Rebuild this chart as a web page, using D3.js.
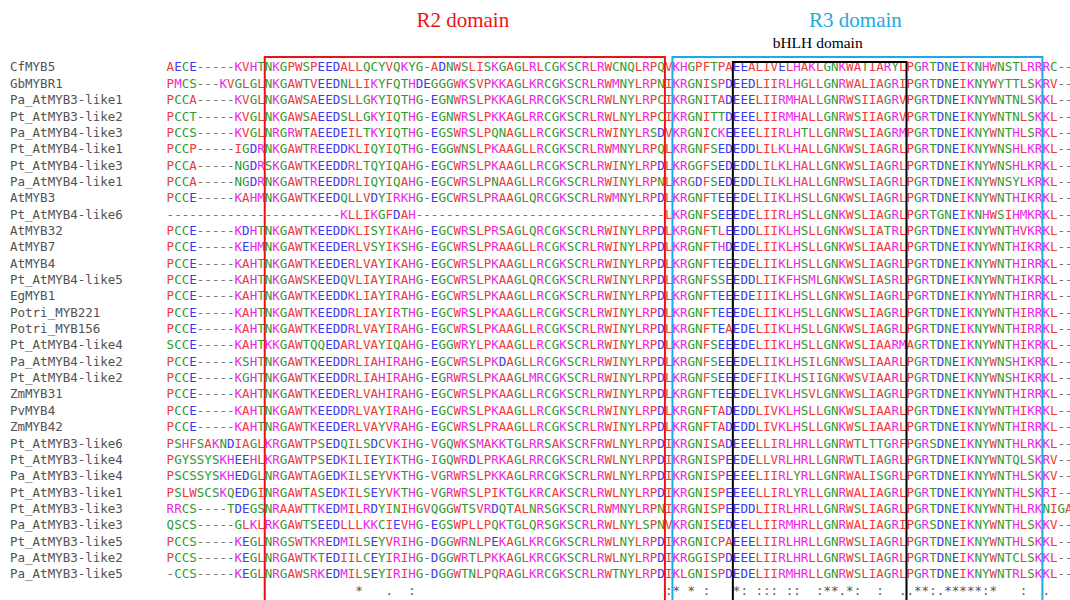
<!DOCTYPE html>
<html>
<head>
<meta charset="utf-8">
<script src="https://cdn.jsdelivr.net/npm/d3@7/dist/d3.min.js"></script>
<style>
  html, body { margin: 0; padding: 0; background: #fff; }
  svg { display: block; }
</style>
</head>
<body>
<svg id="chart" width="1070" height="600"></svg>
<script>
// ---------------- DATA ----------------
const names = [
  "CfMYB5","GbMYBR1","Pa_AtMYB3-like1","Pt_AtMYB3-like2","Pa_AtMYB4-like3","Pt_AtMYB4-like1",
  "Pt_AtMYB4-like3","Pa_AtMYB4-like1","AtMYB3","Pt_AtMYB4-like6","AtMYB32","AtMYB7","AtMYB4",
  "Pt_AtMYB4-like5","EgMYB1","Potri_MYB221","Potri_MYB156","Pt_AtMYB4-like4","Pa_AtMYB4-like2",
  "Pt_AtMYB4-like2","ZmMYB31","PvMYB4","ZmMYB42","Pt_AtMYB3-like6","Pt_AtMYB3-like4",
  "Pa_AtMYB3-like4","Pt_AtMYB3-like1","Pt_AtMYB3-like3","Pa_AtMYB3-like3","Pt_AtMYB3-like5",
  "Pa_AtMYB3-like2","Pa_AtMYB3-like5"
];

const sequences = [
  "AECE-----KVHTNKGPWSPEEDALLQCYVQKYG-ADNWSLISKGAGLRLCGKSCRLRWCNQLRPQVKHGPFTPAEEALIVELHAKLGNKWATIARYLPGRTDNEIKNHWNSTLRRRC--",
  "PMCS---KVGLGLNKGAWTVEEDNLLIKYFQTHDEGGGWKSVPKKAGLKRCGKSCRLRWMNYLRPNIKRGNISPDEEDLIIRLHGLLGNRWALIAGRIPGRTDNEIKNYWYTTLSKRV--",
  "PCCA-----KVGLNKGAWSAEEDSLLGKYIQTHG-EGNWRSLPKKAGLRRCGKSCRLRWLNYLRPCIKRGNITADEEELIIRMHALLGNRWSIIAGRVPGRTDNEIKNYWNTNLSKKL--",
  "PCCT-----KVGLNKGAWSAEEDSLLGKYIQTHG-EGNWRSLPKKAGLRRCGKSCRLRWLNYLRPCIKRGNITTDEEELIIRMHALLGNRWSIIAGRVPGRTDNEIKNYWNTNLSKKL--",
  "PCCS-----KVGLNRGRWTAEEDEILTKYIQTHG-EGSWRSLPQNAGLLRCGKSCRLRWINYLRSDVKRGNICKEEEELIIRLHTLLGNRWSLIAGRMPGRTDNEIKNYWNTHLSRKL--",
  "PCCP-----IGDRNKGAWTREEDDKLIQYIQTHG-EGGWNSLPKAAGLLRCGKSCRLRWMNYLRPQLKRGNFSEDEDDLILKLHALLGNKWSLIAGRLPGRTDNEIKNYWNSHLKRKL--",
  "PCCA-----NGDRSKGAWTKEEDDRLTQYIQAHG-EGCWRSLPKAAGLLRCGKSCRLRWINYLRPDLKRGGFSEDEDDLILKLHALLGNKWSLIAGRLPGRTDNEIKNYWNSHLKRKL--",
  "PCCA-----NGDRNKGAWTREEDDRLIQYIQAHG-EGCWRSLPNAAGLLRCGKSCRLRWINYLRPNLKRGDFSEDEDDLILKLHALLGNRWSLIAGRLPGRTDNEIKNYWNSYLKRKL--",
  "PCCE-----KAHMNKGAWTKEEDQLLVDYIRKHG-EGCWRSLPRAAGLQRCGKSCRLRWMNYLRPDLKRGNFTEEEDELIIKLHSLLGNKWSLIAGRLPGRTDNEIKNYWNTHIKRKL--",
  "-----------------------KLLIKGFDAH---------------------------------LKRGNFSEEEDELIIRLHSLLGNKWSLIAGRLPGRTGNEIKNHWSIHMKRKL--",
  "PCCE-----KDHTNKGAWTKEEDDKLISYIKAHG-EGCWRSLPRSAGLQRCGKSCRLRWINYLRPDLKRGNFTLEEDDLIIKLHSLLGNKWSLIATRLPGRTDNEIKNYWNTHVKRKL--",
  "PCCE-----KEHMNKGAWTKEEDERLVSYIKSHG-EGCWRSLPRAAGLLRCGKSCRLRWINYLRPDLKRGNFTHDEDELIIKLHSLLGNKWSLIAARLPGRTDNEIKNYWNTHIKRKL--",
  "PCCE-----KAHTNKGAWTKEEDERLVAYIKAHG-EGCWRSLPKAAGLLRCGKSCRLRWINYLRPDLKRGNFTEEEDELIIKLHSLLGNKWSLIAGRLPGRTDNEIKNYWNTHIRRKL--",
  "PCCE-----KAHTNKGAWSKEEDQVLIAYIRAHG-EGCWRSLPKAAGLQRCGKSCRLRWINYLRPDLKRGNFSSEEDDLIIKFHSMLGNKWSLIASRLPGRTDNEIKNYWNTHIKRKL--",
  "PCCE-----KAHTNKGAWTKEEDDKLIAYIRAHG-EGCWRSLPKAAGLLRCGKSCRLRWINYLRPDLKRGNFTEEEDEIIIKLHSLLGNKWSLIAGRLPGRTDNEIKNYWNTHIRRKL--",
  "PCCE-----KAHTNKGAWTKEEDDRLIAYIRTHG-EGCWRSLPKAAGLLRCGKSCRLRWINYLRPDLKRGNFTEEEDELIIKLHSLLGNKWSLIAGRLPGRTDNEIKNYWNTHIRRKL--",
  "PCCE-----KAHTNKGAWTKEEDDRLVAYIRAHG-EGCWRSLPKAAGLLRCGKSCRLRWINYLRPDLKRGNFTEAEDELIIKLHSLLGNKWSLIAGRLPGRTDNEIKNYWNTHIRRKL--",
  "SCCE-----KAHTKKGAWTQQEDARLVAYIQAHG-EGGWRYLPKAAGLLRCGKSCRLRWINYLRPDLKRGNFSEEEDELIIKLHSLLGNKWSLIAARMAGRTDNEIKNYWNTHIKRKL--",
  "PCCE-----KSHTNKGAWTKEEDDRLIAHIRAHG-EGCWRSLPKDAGLLRCGKSCRLRWINYLRPDLKRGNFSEEEDELIIKLHSILGNKWSLIAARLPGRTDNEIKNYWNSHIKRKL--",
  "PCCE-----KGHTNKGAWTKEEDDRLIAHIRAHG-EGRWRSLPKAAGLMRCGKSCRLRWINYLRPDLKRGNFSEEEDEFIIKLHSIIGNKWSVIAARLPGRTDNEIKNYWNSHIKRKL--",
  "PCCE-----KAHTNKGAWTKEEDERLVAHIRAHG-EGCWRSLPKAAGLLRCGKSCRLRWINYLRPDLKRGNFTEEEDELIVKLHSVLGNKWSLIAGRLPGRTDNEIKNYWNTHIRRKL--",
  "PCCE-----KAHTNKGAWTKEEDDRLVAYIRAHG-EGCWRSLPKAAGLLRCGKSCRLRWINYLRPDLKRGNFTADEDDLIVKLHSLLGNKWSLIAARLPGRTDNEIKNYWNTHIKRKL--",
  "PCCE-----KAHTNRGAWTKEEDERLVAYVRAHG-EGCWRSLPRAAGLLRCGKSCRLRWINYLRPDLKRGNFTADEDDLIVKLHSLLGNKWSLIAARLPGRTDNEIKNYWNTHIRRKL--",
  "PSHFSAKNDIAGLKRGAWTPSEDQILSDCVKIHG-VGQWKSMAKKTGLRRSAKSCRFRWLNYLRPDIKRGNISADEEELLIRLHRLLGNRWTLTTGRFPGRSDNEIKNYWNTHLRKKL--",
  "PGYSSYSKHEEHLKRGAWTPSEDKILIEYIKTHG-IGQWRDLPRKAGLRRCGKSCRLRWLNYLRPDIKRGNISPEEDELLVRLHRLLGNRWTLIAGRLPGRTDNEIKNYWNTQLSKRV--",
  "PSCSSYSKHEDGLNRGAWTAGEDKILSEYVKTHG-VGRWRSLPKKAGLRRCGKSCRLRWLNYLRPDIKRGNISPEEEELIIRLYRLLGNRWALISGRLPGRTDNEIKNYWNTHLSKKV--",
  "PSLWSCSKQEDGINRGAWTASEDKILSEYVKTHG-VGRWRSLPIKTGLKRCAKSCRLRWLNYLRPDIKRGNISPEEEELLIRLYRLLGNRWALIAGRLPGRTDNEIKNYWNTHLSKRI--",
  "RRCS----TDEGSNRAAWTTKEDMILRDYINIHGVQGGWTSVRDQTALNRSGKSCRLRWMNYLRPNIKRGNISPEEDDLIIRLHRLLGNRWSLIAGRLPGRTDNEIKNYWNTHLRKNIGA",
  "QSCS-----GLKLRKGAWTSEEDLLLKKCIEVHG-EGSWPLLPQKTGLQRSGKSCRLRWLNYLSPNVKRGNISEDEELLIIRMHRLLGNRWALIAGRIPGRSDNEIKNYWNTHLSKKV--",
  "PCCS-----KEGLNRGSWTKREDMILSEYVRIHG-DGGWRNLPEKAGLKRCGKSCRLRWLNYLRPDIKRGNICPAEEELIIRLHRLLGNRWSLIAGRLPGRTDNEIKNYWNTHLSKKL--",
  "PCCS-----KEGLNRGAWTKTEDIILCEYIRIHG-DGGWRTLPKKAGLKRCGKSCRLRWLNYLRPDIKRGGISPDEEELIIRLHRLLGNRWSLIAGRLPGRTDNEIKNYWNTCLSKKL--",
  "-CCS-----KEGLNRGAWSRKEDMILSEYIRIHG-DGGWTNLPQRAGLKRCGKSCRLRWTNYLRPDIKLGNISPDEDELIIRMHRLLGNRWSLIAGRLPGRTDNEIKNYWNTRLSKKL--"
];

// conservation line (one character per alignment column)
const consensus =
  "                         *   .  :                                 :* * :   *: ::: ::  :**.*:  :  ..**:.*****:*   :  .   ";

// domains: label and first/last alignment column (1-based)
const domainLabels = ["R2 domain", "R3 domain", "bHLH domain"];
const domainStart  = [14, 68, 76];
const domainEnd    = [66, 116, 98];

// ---------------- STYLE ----------------
const nCols = 120;
const colW = 7.55;
const seqLeft = 166.6;
const rowTop = 58.8, rowH = 16.35;
const domainStyle = [
  {stroke: "#ee1111", text: "#ee1111", top: 57, size: 21, ty: 27},
  {stroke: "#1ea8e6", text: "#1ea8e6", top: 57, size: 21, ty: 27},
  {stroke: "#000000", text: "#000000", top: 62, size: 15.5, ty: 48}
];
const resColor = {};
"AVFPILW".split("").forEach(c => resColor[c] = "#f03a3a");
"DE".split("").forEach(c => resColor[c] = "#3a3af0");
"RKHM".split("").forEach(c => resColor[c] = "#ee22ee");
"STYCNGQ".split("").forEach(c => resColor[c] = "#2f9a2f");
resColor["-"] = "#707070";

const mono = "'DejaVu Sans Mono', monospace";

// ---------------- DRAW ----------------
const svg = d3.select("#chart");

const x = d3.scaleLinear().domain([0, nCols]).range([seqLeft, seqLeft + nCols * colW]);
const y = d3.scaleBand().domain(d3.range(names.length + 1)).range([rowTop, rowTop + (names.length + 1) * rowH]);
const yc = i => y(i) + y.bandwidth() / 2;

// names
svg.append("g").selectAll("text").data(names).join("text")
  .attr("x", 10).attr("y", (d, i) => yc(i) + 4.5)
  .attr("font-family", mono).attr("font-size", 12.5)
  .attr("fill", "#525252").text(d => d);

// residues
const cells = [];
sequences.forEach((s, r) => s.split("").forEach((c, k) => cells.push({r, k, c})));
svg.append("g").selectAll("text").data(cells).join("text")
  .attr("x", d => x(d.k + 0.5)).attr("y", d => yc(d.r) + 4.5)
  .attr("text-anchor", "middle")
  .attr("font-family", mono).attr("font-size", 12.5)
  .attr("fill", d => resColor[d.c] || "#777").text(d => d.c);

// conservation line
const cons = consensus.split("").map((c, k) => ({c, k})).filter(d => d.c !== " ");
svg.append("g").selectAll("text").data(cons).join("text")
  .attr("x", d => x(d.k + 0.5)).attr("y", yc(names.length) + 4.5)
  .attr("text-anchor", "middle")
  .attr("font-family", mono).attr("font-size", 12.5)
  .attr("fill", "#555").text(d => d.c);

// domain boxes and labels
domainLabels.forEach((lab, i) => {
  const st = domainStyle[i];
  const x0 = x(domainStart[i] - 1), x1 = x(domainEnd[i]);
  svg.append("rect")
    .attr("x", x0).attr("y", st.top)
    .attr("width", x1 - x0).attr("height", 620 - st.top)
    .attr("fill", "none").attr("stroke", st.stroke).attr("stroke-width", 2);
  svg.append("text")
    .attr("x", (x0 + x1) / 2 - 2).attr("y", st.ty)
    .attr("text-anchor", "middle")
    .attr("font-family", "'Liberation Serif', 'Times New Roman', serif")
    .attr("font-size", st.size).attr("fill", st.text).text(lab);
});
</script>
</body>
</html>
